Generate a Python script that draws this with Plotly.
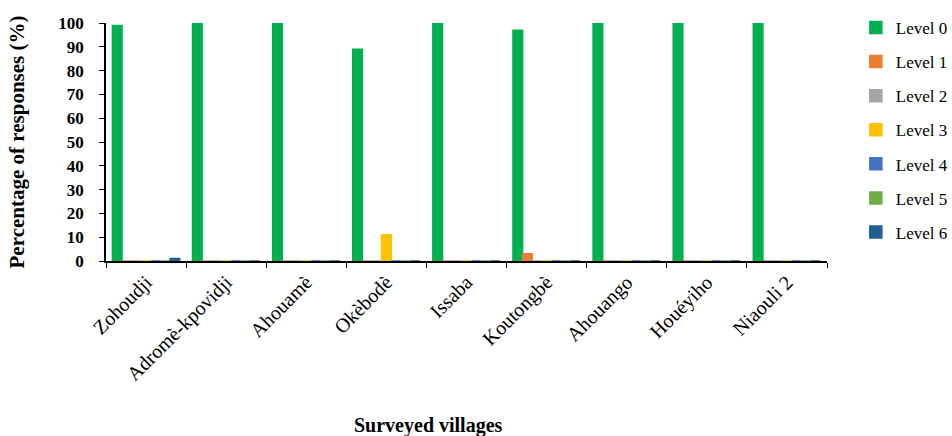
import plotly.graph_objects as go

villages = ["Zohoudji", "Adromè-kpovidji", "Ahouamè", "Okèbodè", "Issaba",
            "Koutongbè", "Ahouango", "Houéyiho", "Niaouli 2"]
level0 = [99, 100, 100, 89, 100, 97, 100, 100, 100]
level1 = [0, 0, 0, 0, 0, 3, 0, 0, 0]
level2 = [0, 0, 0, 0, 0, 0, 0, 0, 0]
level3 = [0, 0, 0, 11, 0, 0, 0, 0, 0]
level4 = [0, 0, 0, 0, 0, 0, 0, 0, 0]
level5 = [0, 0, 0, 0, 0, 0, 0, 0, 0]
level6 = [1, 0, 0, 0, 0, 0, 0, 0, 0]
series_names = ["Level 0", "Level 1", "Level 2", "Level 3", "Level 4", "Level 5", "Level 6"]
series_values = [level0, level1, level2, level3, level4, level5, level6]
colors = ["#00B050", "#ED7D31", "#A5A5A5", "#FFC000", "#4472C4", "#70AD47", "#255E91"]

FONT = "Liberation Serif"
fig = go.Figure()
for i, (name, vals, col) in enumerate(zip(series_names, series_values, colors)):
    fig.add_trace(go.Bar(
        x=villages, y=vals, name=name, legendgroup=name,
        marker=dict(color=col, line=dict(color=col, width=1.5)),
    ))

fig.add_annotation(
    text="<b>Surveyed villages</b>", xref="paper", yref="paper",
    x=0.447, y=-0.69, xanchor="center", yanchor="middle", showarrow=False,
    font=dict(family=FONT, size=20, color="black"),
)

fig.update_layout(
    width=952, height=436,
    margin=dict(l=106, r=125, t=23, b=175, autoexpand=False),
    paper_bgcolor="white", plot_bgcolor="white",
    barmode="group", bargap=0.16, bargroupgap=0,
    font=dict(family=FONT, size=17, color="black"),
    showlegend=True,
    legend=dict(x=1.04, xanchor="left", y=1.055, yanchor="top",
                font=dict(family=FONT, size=17, color="black"),
                tracegroupgap=9, itemwidth=30, maxheight=430),
    xaxis=dict(
        type="category", tickangle=-45, tickson="boundaries",
        ticks="outside", ticklen=5, tickcolor="black",
        showline=True, linecolor="black", linewidth=1.5,
        showgrid=False, tickfont=dict(family=FONT, size=20),
    ),
    yaxis=dict(
        range=[0, 100], dtick=10, ticks="outside", ticklen=5, tickcolor="black",
        showline=True, linecolor="black", linewidth=1.5, showgrid=False,
        ticklabelstandoff=12,
        tickfont=dict(family=FONT, size=17, weight="bold"),
        title=dict(text="<b>Percentage of responses (%)</b>", font=dict(family=FONT, size=21), standoff=28),
    ),
)
fig.write_html("out.html")
